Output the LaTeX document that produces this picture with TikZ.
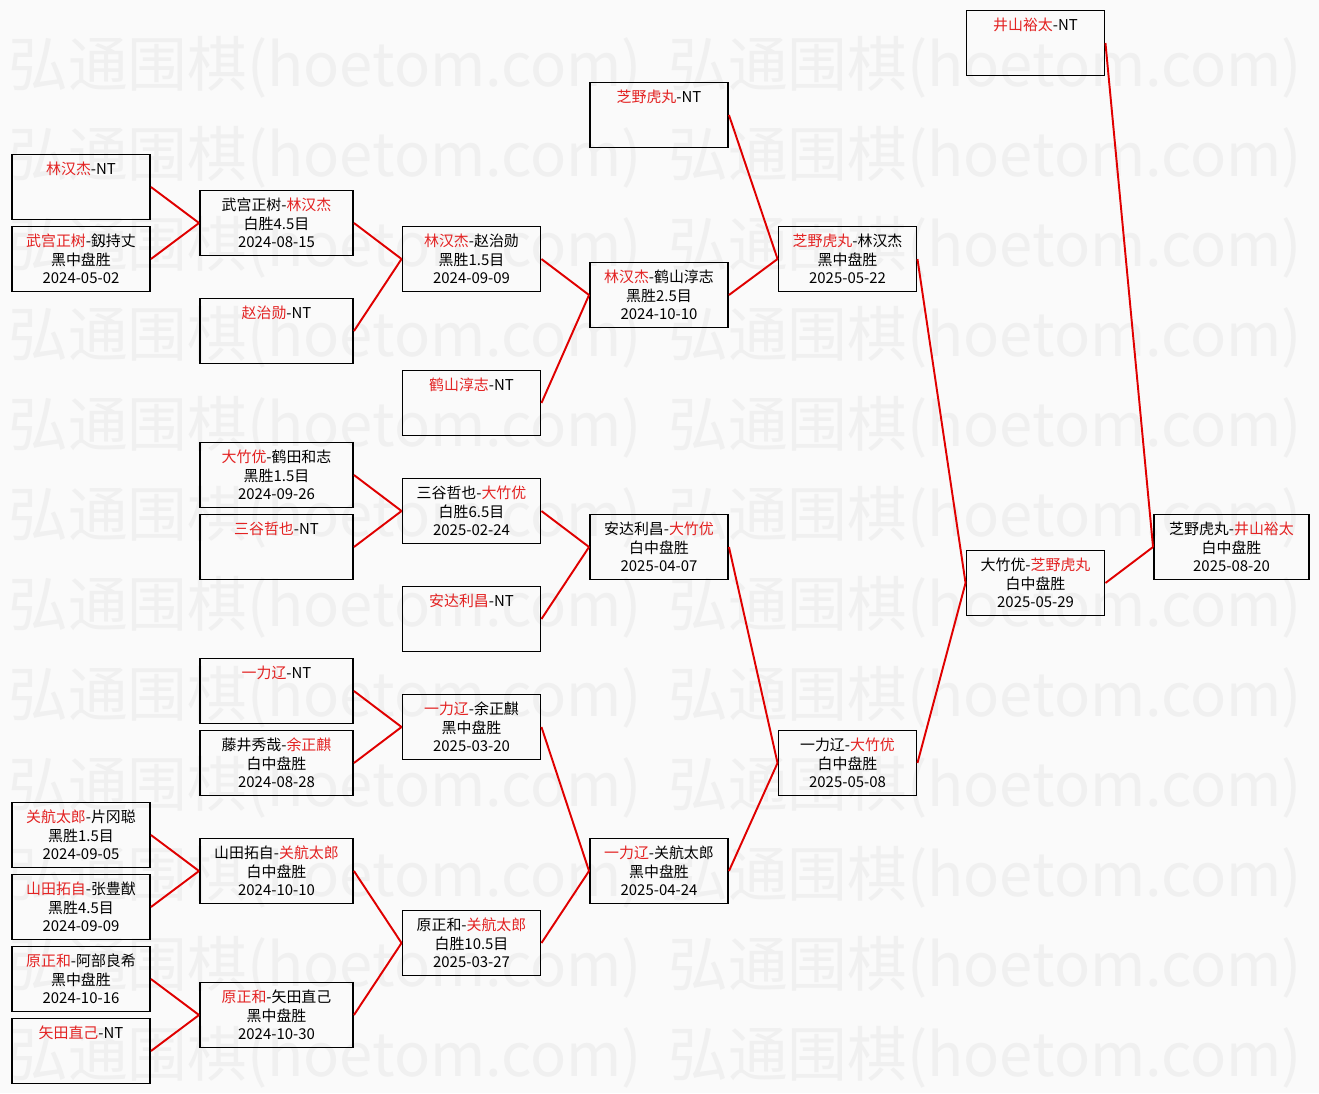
\documentclass[tikz,border=0pt]{standalone}
\usepackage{fontspec}
\setmainfont{Noto Sans CJK SC}
\usepackage{tikz}
\definecolor{winred}{HTML}{E32222}
\definecolor{linkred}{HTML}{E00000}
\definecolor{paper}{HTML}{FAFAFA}
\definecolor{markgray}{HTML}{F0F0F0}
\newcommand{\winner}[1]{\textcolor{winred}{#1}}
\newcommand{\bye}[1]{\winner{#1}-NT\\\mbox{}\\\mbox{}}
\tikzset{
  game/.style={draw=black,line width=1.1pt,minimum width=2.76cm,minimum height=1.3cm,inner sep=0pt,align=center,font=\fontsize{8.5}{10.5}\selectfont},
  widegame/.style={game,minimum width=3.06cm},
  link/.style={draw=linkred,line width=1.1pt},
  watermark/.style={anchor=west,text=markgray,inner sep=0pt,font=\fontsize{34}{38}\selectfont},
}
\begin{document}
\begin{tikzpicture}[x=0.02cm,y=-0.02cm]
  \fill[paper] (0,0) rectangle (1319,1093);
  \useasboundingbox (0,0) rectangle (1319,1093);
  \foreach \row in {0,...,11} {
    \node[watermark] (wl\row) at (8,67+90*\row) {弘通围棋(hoetom.com)};
    \node[watermark] (wr\row) at (668,67+90*\row) {弘通围棋(hoetom.com)};
  }
  % first round
  \node[game] (a1) at (81,187) {\bye{林汉杰}};
  \node[game] (a2) at (81,259) {\winner{武宫正树}-釼持丈\\黑中盘胜\\2024-05-02};
  \node[game] (a3) at (81,835) {\winner{关航太郎}-片冈聪\\黑胜1.5目\\2024-09-05};
  \node[game] (a4) at (81,907) {\winner{山田拓自}-张豊猷\\黑胜4.5目\\2024-09-09};
  \node[game] (a5) at (81,979) {\winner{原正和}-阿部良希\\黑中盘胜\\2024-10-16};
  \node[game] (a6) at (81,1051) {\bye{矢田直己}};
  % second round
  \node[widegame] (b1) at (276.5,223) {武宫正树-\winner{林汉杰}\\白胜4.5目\\2024-08-15};
  \node[widegame] (b2) at (276.5,331) {\bye{赵治勋}};
  \node[widegame] (b3) at (276.5,475) {\winner{大竹优}-鹤田和志\\黑胜1.5目\\2024-09-26};
  \node[widegame] (b4) at (276.5,547) {\bye{三谷哲也}};
  \node[widegame] (b5) at (276.5,691) {\bye{一力辽}};
  \node[widegame] (b6) at (276.5,763) {藤井秀哉-\winner{余正麒}\\白中盘胜\\2024-08-28};
  \node[widegame] (b7) at (276.5,871) {山田拓自-\winner{关航太郎}\\白中盘胜\\2024-10-10};
  \node[widegame] (b8) at (276.5,1015) {\winner{原正和}-矢田直己\\黑中盘胜\\2024-10-30};
  % third round
  \node[game] (c1) at (471.5,259) {\winner{林汉杰}-赵治勋\\黑胜1.5目\\2024-09-09};
  \node[game] (c2) at (471.5,403) {\bye{鹤山淳志}};
  \node[game] (c3) at (471.5,511) {三谷哲也-\winner{大竹优}\\白胜6.5目\\2025-02-24};
  \node[game] (c4) at (471.5,619) {\bye{安达利昌}};
  \node[game] (c5) at (471.5,727) {\winner{一力辽}-余正麒\\黑中盘胜\\2025-03-20};
  \node[game] (c6) at (471.5,943) {原正和-\winner{关航太郎}\\白胜10.5目\\2025-03-27};
  % fourth round
  \node[game] (d1) at (659,115) {\bye{芝野虎丸}};
  \node[game] (d2) at (659,295) {\winner{林汉杰}-鹤山淳志\\黑胜2.5目\\2024-10-10};
  \node[game] (d3) at (659,547) {安达利昌-\winner{大竹优}\\白中盘胜\\2025-04-07};
  \node[game] (d4) at (659,871) {\winner{一力辽}-关航太郎\\黑中盘胜\\2025-04-24};
  % semifinals and final
  \node[game] (e1) at (847.5,259) {\winner{芝野虎丸}-林汉杰\\黑中盘胜\\2025-05-22};
  \node[game] (e2) at (847.5,763) {一力辽-\winner{大竹优}\\白中盘胜\\2025-05-08};
  \node[game] (f1) at (1035.5,43) {\bye{井山裕太}};
  \node[game] (f2) at (1035.5,583) {大竹优-\winner{芝野虎丸}\\白中盘胜\\2025-05-29};
  \node[widegame,minimum width=3.1cm] (final) at (1231.5,547) {芝野虎丸-\winner{井山裕太}\\白中盘胜\\2025-08-20};
  \draw[link] (a1.east) -- (b1.west);
  \draw[link] (a2.east) -- (b1.west);
  \draw[link] (a3.east) -- (b7.west);
  \draw[link] (a4.east) -- (b7.west);
  \draw[link] (a5.east) -- (b8.west);
  \draw[link] (a6.east) -- (b8.west);
  \draw[link] (b1.east) -- (c1.west);
  \draw[link] (b2.east) -- (c1.west);
  \draw[link] (b3.east) -- (c3.west);
  \draw[link] (b4.east) -- (c3.west);
  \draw[link] (b5.east) -- (c5.west);
  \draw[link] (b6.east) -- (c5.west);
  \draw[link] (b7.east) -- (c6.west);
  \draw[link] (b8.east) -- (c6.west);
  \draw[link] (c1.east) -- (d2.west);
  \draw[link] (c2.east) -- (d2.west);
  \draw[link] (c3.east) -- (d3.west);
  \draw[link] (c4.east) -- (d3.west);
  \draw[link] (c5.east) -- (d4.west);
  \draw[link] (c6.east) -- (d4.west);
  \draw[link] (d1.east) -- (e1.west);
  \draw[link] (d2.east) -- (e1.west);
  \draw[link] (d3.east) -- (e2.west);
  \draw[link] (d4.east) -- (e2.west);
  \draw[link] (e1.east) -- (f2.west);
  \draw[link] (e2.east) -- (f2.west);
  \draw[link] (f1.east) -- (final.west);
  \draw[link] (f2.east) -- (final.west);
\end{tikzpicture}
\end{document}
